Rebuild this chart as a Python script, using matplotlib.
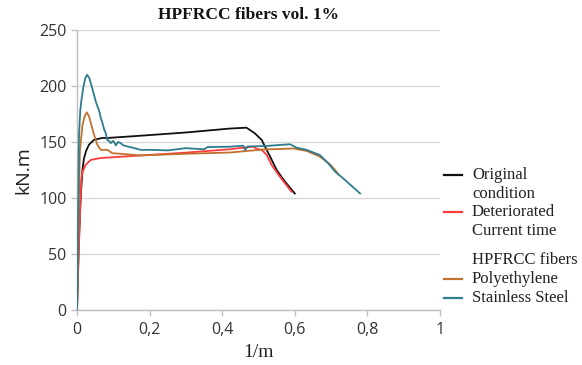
import matplotlib
matplotlib.use("Agg")
import matplotlib.pyplot as plt
from matplotlib.lines import Line2D

# ---- data ----
orig_x = [0, 0.005, 0.01, 0.015, 0.019, 0.025, 0.033, 0.047, 0.07, 0.084, 0.175, 0.3, 0.421, 0.467, 0.49, 0.509, 0.518, 0.532, 0.55, 0.573, 0.60]
orig_y = [0, 60, 100, 125, 135, 142, 147.6, 152, 153.6, 153.6, 155.6, 158.5, 162, 162.8, 157.7, 151.8, 145.8, 137, 125, 114.6, 104]

det_x = [0, 0.005, 0.01, 0.012, 0.016, 0.024, 0.038, 0.065, 0.175, 0.3, 0.421, 0.46, 0.486, 0.495, 0.509, 0.523, 0.536, 0.559, 0.591]
det_y = [0, 55, 100, 118, 124, 129.7, 134, 135.7, 138, 140.5, 143.5, 145, 145.8, 144, 142.9, 138.4, 129.5, 119, 105.6]

poly_x = [0, 0.004, 0.008, 0.015, 0.021, 0.027, 0.033, 0.038, 0.047, 0.056, 0.065, 0.084, 0.097, 0.12, 0.175, 0.3, 0.421, 0.513, 0.596, 0.633, 0.669, 0.697, 0.711, 0.72]
poly_y = [0, 80, 142, 165, 173, 176.5, 173, 167, 156.5, 147.6, 143, 143, 140, 139.5, 138, 139.5, 140.6, 143.3, 144.2, 142, 137, 130, 125, 121]

steel_x = [0, 0.003, 0.0055, 0.009, 0.012, 0.018, 0.023, 0.028, 0.034, 0.042, 0.047, 0.051, 0.056, 0.061, 0.066, 0.07, 0.075, 0.079, 0.083, 0.088, 0.093, 0.1, 0.107, 0.113, 0.12, 0.128, 0.139, 0.157, 0.175, 0.2, 0.25, 0.3, 0.35, 0.36, 0.421, 0.458, 0.463, 0.47, 0.523, 0.587, 0.605, 0.633, 0.669, 0.692, 0.711, 0.733, 0.78]
steel_y = [0, 80, 156, 178, 187, 200, 207, 210, 207, 198, 192, 187, 182, 178, 171, 167, 161, 158, 152, 151, 149, 151, 147, 150, 149, 147, 146, 144.6, 143, 143, 142.5, 144.5, 143.5, 145.5, 145.8, 146.7, 142.9, 146, 146.5, 148, 145, 142.9, 138.4, 131, 123.5, 117.6, 104]

x_ticks = [0, 0.2, 0.4, 0.6, 0.8, 1]
x_tick_labels = ["0", "0,2", "0,4", "0,6", "0,8", "1"]
y_ticks = [0, 50, 100, 150, 200, 250]

c_orig = "#111111"
c_det = "#FF3B3B"
c_poly = "#C0712E"
c_steel = "#2E7C8C"

fig = plt.figure(figsize=(5.82, 3.65), dpi=100)
ax = fig.add_axes([77/582, 1-310/365, (440-77)/582, (310-30)/365])

lw = 1.3
ax.plot(orig_x, orig_y, color=c_orig, lw=lw, zorder=3)
ax.plot(det_x, det_y, color=c_det, lw=lw, zorder=4)
ax.plot(poly_x, poly_y, color=c_poly, lw=lw, zorder=5)
ax.plot(steel_x, steel_y, color=c_steel, lw=lw, zorder=6)

ax.set_xlim(0, 1)
ax.set_ylim(0, 250)
ax.set_xticks(x_ticks)
ax.set_xticklabels(x_tick_labels)
ax.set_yticks(y_ticks)
ax.yaxis.grid(True, color="#D9D9D9", lw=1.0)
ax.set_axisbelow(True)
for s in ["top", "right"]:
    ax.spines[s].set_visible(False)
for s in ["left", "bottom"]:
    ax.spines[s].set_color("#BFBFBF")
    ax.spines[s].set_linewidth(1.0)
ax.tick_params(axis="both", colors="#BFBFBF", length=4, width=1.0, labelsize=11.5, labelcolor="#333333")
ax.tick_params(axis="x", pad=5)
for lab in ax.get_xticklabels() + ax.get_yticklabels():
    lab.set_family("Open Sans")

ax.set_xlabel("1/m", family="Liberation Serif", fontsize=14, color="#222222", labelpad=4)
ax.set_ylabel("kN.m", family="Open Sans", fontsize=14, color="#222222", labelpad=5)

fig.text(248/582, 1-15/365, "HPFRCC fibers vol. 1%", family="Liberation Serif",
         fontweight="bold", fontsize=12.5, ha="center", va="center", color="#111111")

# ---- legend (manual) ----
def fx(px):
    return px / 582
def fy(py):
    return 1 - py / 365

entries = [
    (175, c_orig, ["Original", "condition"]),
    (212, c_det, ["Deteriorated", "Current time"]),
    (260, None, ["HPFRCC fibers"]),
    (279, c_poly, ["Polyethylene"]),
    (298, c_steel, ["Stainless Steel"]),
]
for py, col, lines in entries:
    if col is not None:
        fig.add_artist(Line2D([fx(444), fx(462)], [fy(py), fy(py)], color=col, lw=1.6,
                              transform=fig.transFigure))
    for i, t in enumerate(lines):
        fig.text(fx(472), fy(py + i * 19), t, family="Liberation Serif", fontsize=12,
                 ha="left", va="center", color="#222222")

fig.savefig("out.png", dpi=100)
